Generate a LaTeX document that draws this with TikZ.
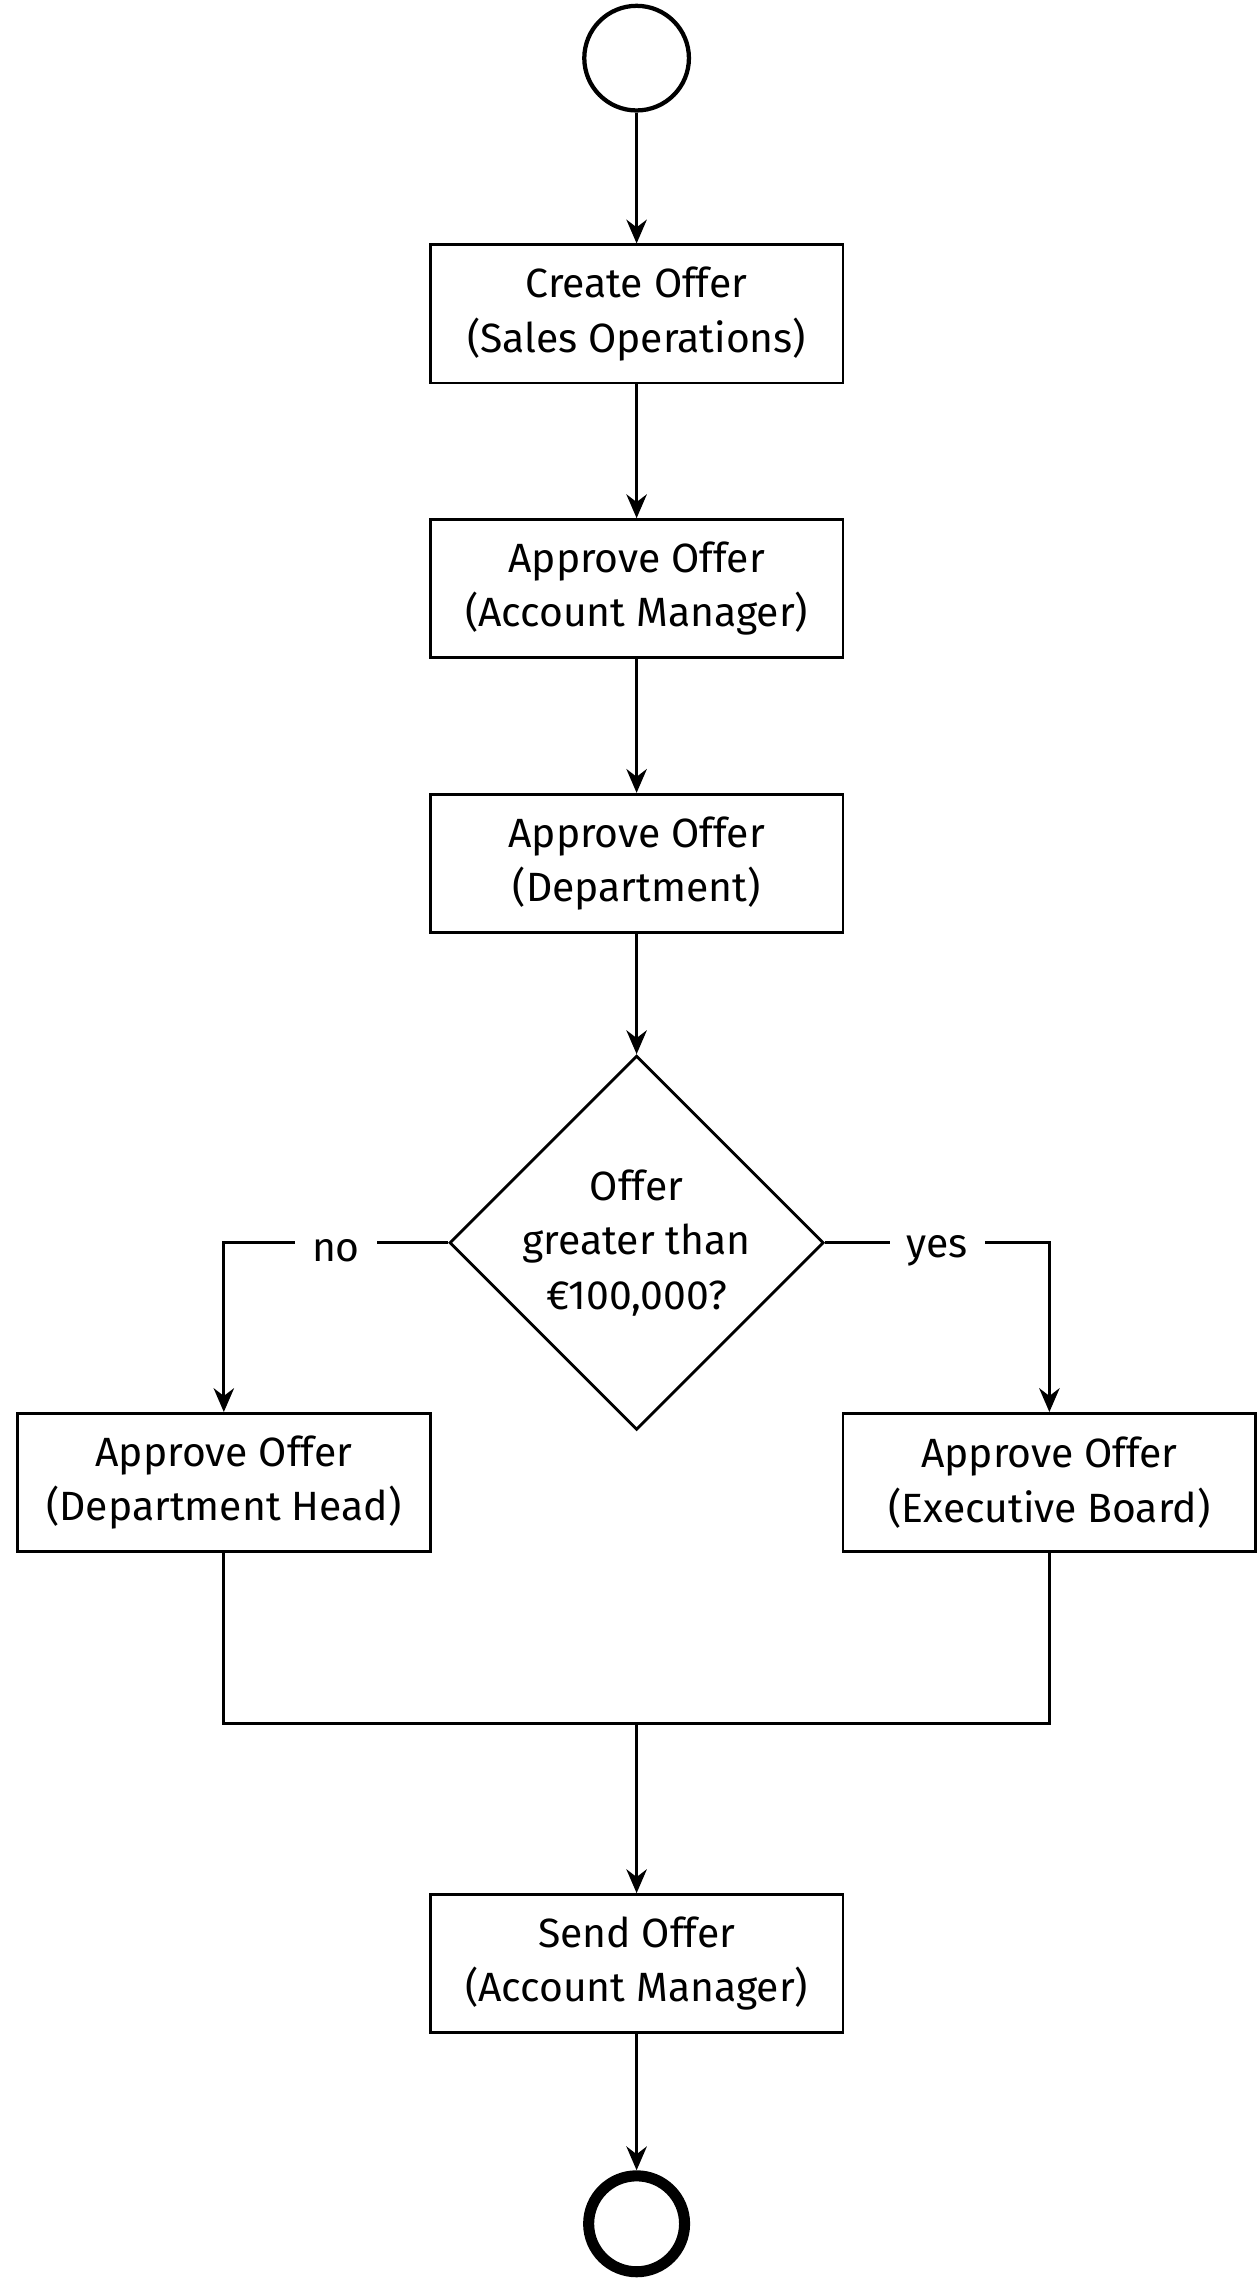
\documentclass[tikz,border=0pt]{standalone}
\usepackage{fontspec}
\setmainfont{Fira Sans}
\usetikzlibrary{shapes.geometric,arrows.meta}
\begin{document}
\begin{tikzpicture}[x=0.03cm,y=-0.03cm,
  every node/.style={font=\fontsize{24}{32}\selectfont},
  box/.style={draw,line width=1.7pt,minimum width=284*0.03cm,minimum height=95*0.03cm,align=center,inner sep=0pt},
  dec/.style={draw,diamond,line width=1.7pt,minimum width=236*0.03cm,minimum height=236*0.03cm,inner sep=0pt,align=center,aspect=1},
  flow/.style={line width=1.7pt,-{Stealth[length=14pt,width=12pt]}},
  seg/.style={line width=1.7pt}]
\useasboundingbox (0,0) rectangle (865,1568);
\node[draw,circle,line width=2.5pt,minimum size=72*0.03cm] (s) at (438,40) {};
\node[box] (a) at (438,216) {Create Offer\\(Sales Operations)};
\node[box] (b) at (438,405) {Approve Offer\\(Account Manager)};
\node[box] (c) at (438,594) {Approve Offer\\(Department)};
\node[dec] (d) at (438,855) {Offer\\greater than\\€100,000?};
\node[box] (l) at (154,1020) {Approve Offer\\(Department Head)};
\node[box] (r) at (722,1020) {Approve Offer\\(Executive Board)};
\coordinate (m) at (438,1186);
\node[box] (e) at (438,1351) {Send Offer\\(Account Manager)};
\node[draw,circle,line width=6.5pt,minimum size=66*0.03cm] (t) at (438,1530) {};
\draw[flow] (s) -- (a);
\draw[flow] (a) -- (b);
\draw[flow] (b) -- (c);
\draw[flow] (c) -- (d);
\draw[flow] (d.west) -- node[fill=white,inner xsep=10pt,yshift=-5pt]{no} (154,855) -- (l);
\draw[flow] (d.east) -- node[fill=white,inner xsep=10pt,yshift=-5pt]{yes} (722,855) -- (r);
\draw[seg] (l.south) |- (m) -| (r.south);
\draw[flow] (m) -- (e);
\draw[flow] (e) -- (t);
\end{tikzpicture}
\end{document}
